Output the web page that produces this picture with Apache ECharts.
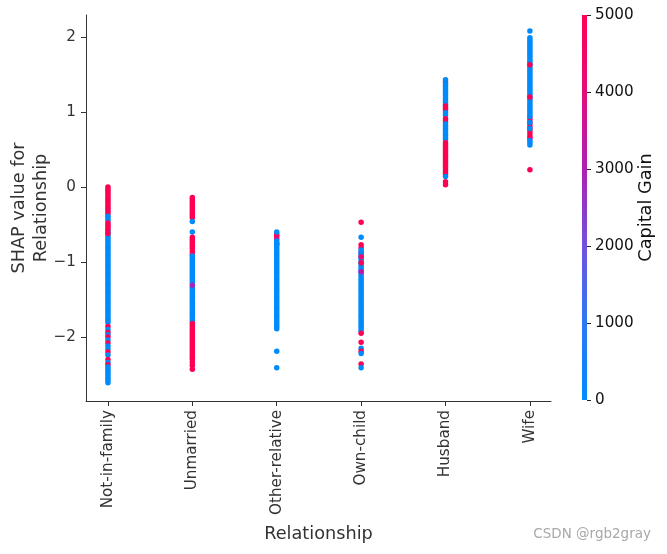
<!DOCTYPE html>
<html>
<head>
<meta charset="utf-8">
<script src="https://cdn.jsdelivr.net/npm/echarts@6/dist/echarts.min.js"></script>
<style>
html,body{margin:0;padding:0;background:#fff;}
#chart{width:667px;height:554px;}
</style>
</head>
<body>
<div id="chart"></div>
<script>
// Categories (x axis)
const categories = ["Not-in-family", "Unmarried", "Other-relative", "Own-child", "Husband", "Wife"];
const yTicks = [-2, -1, 0, 1, 2];
const colorTicks = [0, 1000, 2000, 3000, 4000, 5000];

// Points per category: [SHAP value, Capital Gain]
const notInFamily = [
  [-0.58,0],[-0.61,0],[-0.64,0],[-0.67,0],[-0.70,0],[-0.73,0],[-0.76,0],[-0.79,0],[-0.82,0],[-0.85,0],
  [-0.88,0],[-0.91,0],[-0.94,0],[-0.97,0],[-1.00,0],[-1.03,0],[-1.06,0],[-1.09,0],[-1.12,0],[-1.15,0],
  [-1.18,0],[-1.21,0],[-1.24,0],[-1.27,0],[-1.30,0],[-1.33,0],[-1.36,0],[-1.39,0],[-1.42,0],[-1.45,0],
  [-1.48,0],[-1.51,0],[-1.54,0],[-1.57,0],[-1.60,0],[-1.63,0],[-1.66,0],[-1.69,0],[-1.72,0],[-1.75,0],
  [-1.78,0],[-1.81,0],
  [0.00,7688],[-0.03,7688],[-0.06,7688],[-0.09,7688],[-0.12,7688],[-0.15,7688],[-0.18,7688],[-0.21,7688],
  [-0.24,7688],[-0.27,7688],[-0.30,7688],[-0.33,7688],[-0.36,7688],
  [-0.39,0],[-0.42,0],[-0.45,0],
  [-0.48,7688],[-0.51,7688],[-0.54,7688],[-0.57,7688],[-0.62,7688],
  [-1.86,7688],[-1.90,0],[-1.94,7688],[-1.97,0],[-2.00,7688],[-2.04,0],[-2.08,7688],[-2.12,0],
  [-2.16,0],[-2.20,7688],[-2.24,0],[-2.30,7688],[-2.34,0],[-2.37,7688],
  [-2.40,0],[-2.43,0],[-2.46,0],[-2.49,0],[-2.52,0],[-2.55,0],[-2.58,0],[-2.61,0]
];
const unmarried = [
  [-0.14,7688],[-0.17,7688],[-0.20,7688],[-0.23,7688],[-0.26,7688],[-0.29,7688],[-0.32,7688],[-0.35,7688],
  [-0.38,7688],[-0.41,7688],
  [-0.46,0],[-0.60,0],
  [-0.67,7688],[-0.70,7688],[-0.73,7688],[-0.76,7688],[-0.79,7688],[-0.82,7688],[-0.86,7688],[-0.90,7688],
  [-0.92,0],[-0.95,0],[-0.98,0],[-1.01,0],[-1.04,0],[-1.07,0],[-1.10,0],[-1.13,0],[-1.16,0],[-1.19,0],
  [-1.22,0],[-1.25,0],[-1.28,0],[-1.34,0],[-1.37,0],[-1.40,0],[-1.43,0],[-1.46,0],[-1.49,0],[-1.52,0],
  [-1.55,0],[-1.58,0],[-1.61,0],[-1.64,0],[-1.67,0],[-1.70,0],[-1.73,0],[-1.76,0],[-1.79,0],
  [-1.31,2800],
  [-1.82,7688],[-1.85,7688],[-1.88,7688],[-1.91,7688],[-1.94,7688],[-1.97,7688],[-2.00,7688],[-2.03,7688],
  [-2.06,7688],[-2.09,7688],[-2.12,7688],[-2.15,7688],[-2.18,7688],[-2.21,7688],[-2.24,7688],[-2.27,7688],
  [-2.30,7688],[-2.34,7688],[-2.38,7688],[-2.43,7688]
];
const otherRelative = [
  [-0.63,7688],[-0.66,7688],[-0.69,4000],[-0.76,7688],
  [-0.60,0],[-0.72,0],[-0.75,0],[-0.78,0],[-0.81,0],[-0.84,0],[-0.87,0],[-0.90,0],[-0.93,0],[-0.96,0],
  [-0.99,0],[-1.02,0],[-1.05,0],[-1.08,0],[-1.11,0],[-1.14,0],[-1.17,0],[-1.20,0],[-1.23,0],[-1.26,0],
  [-1.29,0],[-1.32,0],[-1.35,0],[-1.38,0],[-1.41,0],[-1.44,0],[-1.47,0],[-1.50,0],[-1.53,0],[-1.56,0],
  [-1.59,0],[-1.62,0],[-1.65,0],[-1.68,0],[-1.71,0],[-1.74,0],[-1.77,0],[-1.80,0],[-1.83,0],[-1.86,0],
  [-1.89,0],
  [-2.19,0],[-2.41,0]
];
const ownChild = [
  [-0.47,7688],[-0.67,0],[-0.77,7688],[-0.81,7688],[-0.88,7688],
  [-0.84,0],[-0.87,0],[-0.90,0],[-0.93,0],[-0.96,0],[-0.99,0],[-1.02,0],[-1.05,0],[-1.08,0],[-1.11,0],
  [-1.14,0],[-1.17,0],[-1.20,0],[-1.23,0],[-1.26,0],[-1.29,0],[-1.32,0],[-1.35,0],[-1.38,0],[-1.41,0],
  [-1.44,0],[-1.47,0],[-1.50,0],[-1.53,0],[-1.56,0],[-1.59,0],[-1.62,0],[-1.65,0],[-1.68,0],[-1.71,0],
  [-1.74,0],[-1.77,0],[-1.80,0],[-1.83,0],[-1.86,0],[-1.89,0],[-1.92,0],
  [-0.93,4200],[-1.01,7688],[-1.13,3200],
  [-1.95,7688],[-2.07,7688],[-2.15,0],[-2.19,7688],[-2.22,0],[-2.36,7688],[-2.41,0]
];
const husband = [
  [1.40,7688],
  [1.43,0],[1.37,0],[1.34,0],[1.31,0],[1.28,0],[1.25,0],[1.22,0],[1.19,0],[1.16,0],[1.13,0],[1.10,0],
  [1.08,7688],[1.05,7688],[1.02,7688],
  [0.99,0],[0.96,0],
  [0.91,7688],[0.87,6000],
  [0.84,0],[0.81,0],[0.78,0],[0.75,0],[0.72,0],[0.69,0],[0.66,0],[0.63,0],
  [0.59,7688],[0.56,7688],[0.53,7688],[0.50,7688],[0.47,7688],[0.44,7688],[0.41,7688],[0.38,7688],
  [0.35,7688],[0.32,7688],[0.29,7688],[0.26,7688],[0.23,7688],[0.20,7688],[0.17,7688],
  [0.14,0],[0.07,7688],[0.03,7688]
];
const wife = [
  [2.08,0],[1.99,0],[1.96,0],[1.93,0],[1.90,0],[1.87,0],[1.84,0],[1.81,0],[1.78,0],[1.75,0],[1.72,0],
  [1.69,0],[1.66,0],[1.63,0],[1.60,0],[1.57,0],[1.54,0],[1.51,0],[1.48,0],[1.45,0],[1.42,0],[1.39,0],
  [1.36,0],[1.33,0],[1.30,0],[1.27,0],[1.24,0],[1.21,0],[1.18,0],[1.15,0],[1.12,0],[1.09,0],[1.06,0],
  [1.03,0],[1.00,0],[0.97,0],
  [1.63,7688],[1.20,5000],
  [0.92,7688],[0.88,7688],[0.84,7688],[0.80,7688],[0.76,7688],[0.72,7688],[0.68,7688],[0.65,7688],
  [0.94,0],[0.86,0],[0.78,0],[0.62,0],[0.59,0],[0.56,0],
  [0.23,7688]
];
const seriesPoints = [notInFamily, unmarried, otherRelative, ownChild, husband, wife];

const colorStops = ["#008bfb", "#2c78f4", "#7052de", "#ae20b2", "#e20e7c", "#ff0052"];

const scatterData = [];
seriesPoints.forEach((pts, i) => {
  pts.forEach(p => scatterData.push([i, p[0], p[1]]));
});

const FONT = "DejaVu Sans";
const TICK_FS = 15.2;
const chart = echarts.init(document.getElementById("chart"), null, {renderer: "canvas"});
const option = {
  backgroundColor: "#fff",
  animation: false,
  textStyle: {fontFamily: FONT},
  title: {
    text: "CSDN @rgb2gray",
    right: 11, bottom: 8,
    textStyle: {fontFamily: FONT, fontSize: 13.5, fontWeight: "normal", color: "#a8a8a8"}
  },
  grid: [
    {left: 86, top: 15, right: 116, bottom: 153, containLabel: false, outerBoundsMode: "none"},
    {left: 582, top: 15, width: 5, height: 385, containLabel: false, outerBoundsMode: "none"}
  ],
  xAxis: [
    {
      type: "value", gridIndex: 0, min: -0.26, max: 5.25,
      name: "Relationship", nameLocation: "middle", nameGap: 124, nameMoveOverlap: false,
      nameTextStyle: {fontFamily: FONT, fontSize: 17.7, color: "#333"},
      axisLine: {show: true, onZero: false, lineStyle: {color: "#333", width: 1}},
      axisTick: {show: true, length: 5, customValues: [0,1,2,3,4,5], lineStyle: {color: "#333"}},
      axisLabel: {
        customValues: [0,1,2,3,4,5], rotate: 90, margin: 9,
        fontFamily: FONT, fontSize: TICK_FS, color: "#333",
        formatter: v => categories[Math.round(v)]
      },
      splitLine: {show: false}
    },
    {type: "category", gridIndex: 1, data: ["cb"], show: false}
  ],
  yAxis: [
    {
      type: "value", gridIndex: 0, min: -2.853, max: 2.293,
      name: "SHAP value for\nRelationship", nameLocation: "middle", nameGap: 34, nameRotate: 90,
      nameMoveOverlap: false,
      nameTextStyle: {fontFamily: FONT, fontSize: 17.7, color: "#333", lineHeight: 22},
      axisLine: {show: true, onZero: false, lineStyle: {color: "#333", width: 1}},
      axisTick: {show: true, length: 5, customValues: yTicks, lineStyle: {color: "#333"}},
      axisLabel: {
        customValues: yTicks, margin: 10, fontFamily: FONT, fontSize: TICK_FS, color: "#333",
        formatter: v => (v < 0 ? "\u2212" + Math.abs(v) : String(v))
      },
      splitLine: {show: false}
    },
    {
      type: "value", gridIndex: 1, position: "right", min: 0, max: 5000, interval: 1000,
      name: "Capital Gain", nameLocation: "middle", nameGap: 50, nameRotate: 90,
      nameMoveOverlap: false,
      nameTextStyle: {fontFamily: FONT, fontSize: 17.7, color: "#111"},
      axisLine: {show: false},
      axisTick: {show: true, length: 4, lineStyle: {color: "#222"}},
      axisLabel: {margin: 8, fontFamily: FONT, fontSize: TICK_FS, color: "#111", formatter: v => String(v)},
      splitLine: {show: false}
    }
  ],
  visualMap: {
    show: false, type: "continuous", seriesIndex: 0, dimension: 2,
    min: 0, max: 5000, inRange: {color: colorStops}
  },
  series: [
    {
      type: "scatter", xAxisIndex: 0, yAxisIndex: 0,
      symbolSize: 5.5, data: scatterData, silent: true,
      itemStyle: {opacity: 1}
    },
    {
      type: "bar", xAxisIndex: 1, yAxisIndex: 1, barWidth: "100%", silent: true,
      data: [5000],
      itemStyle: {
        color: new echarts.graphic.LinearGradient(0, 1, 0, 0,
          colorStops.map((c, k) => ({offset: colorTicks[k] / 5000, color: c})))
      }
    }
  ]
};
chart.setOption(option);
</script>
</body>
</html>
